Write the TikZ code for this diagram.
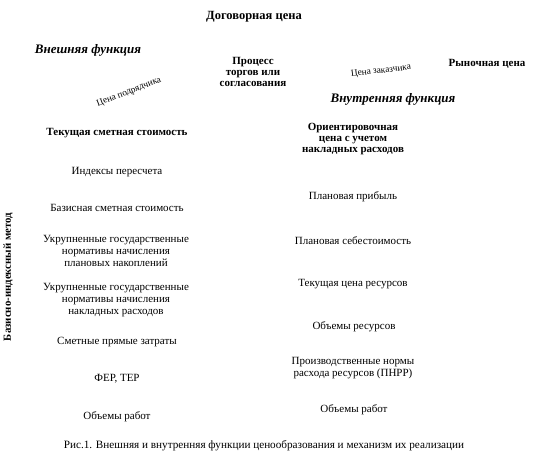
\documentclass[tikz,border=0pt]{standalone}
\usepackage{fontspec}
\setmainfont{Liberation Serif}
\begin{document}
\begin{tikzpicture}[x=1pt,y=-1pt,
  every node/.style={inner sep=0pt, align=center},
  plain/.style={font=\fontsize{11}{11.8}\selectfont},
  boldtxt/.style={font=\fontsize{11}{11}\selectfont\bfseries},
  toptxt/.style={font=\fontsize{12.5}{13}\selectfont\bfseries},
  headtxt/.style={font=\fontsize{13}{14}\selectfont\bfseries\itshape},
  smalltxt/.style={font=\fontsize{9.3}{10}\selectfont},
  sidetxt/.style={font=\fontsize{10.8}{11}\selectfont\bfseries},
  captxt/.style={font=\fontsize{11.2}{12}\selectfont}]
\useasboundingbox (0,0) rectangle (556,457);
% top
\node[toptxt] (dog) at (254,17) {Договорная цена};
\node[headtxt] (ext) at (88,50) {Внешняя функция};
\node[boldtxt] (proc) at (253,72) {Процесс\\торгов или\\согласования};
\node[boldtxt] (market) at (487,64) {Рыночная цена};
\node[smalltxt, rotate=21] (podr) at (129,92) {Цена подрядчика};
\node[smalltxt, rotate=7] (zak) at (381,71) {Цена заказчика};
\node[headtxt] (int) at (393,99) {Внутренняя функция};
% left column
\node[boldtxt] (tek) at (117,133) {Текущая сметная стоимость};
\node[plain] (ind) at (117,172) {Индексы пересчета};
\node[plain] (baz) at (117,208) {Базисная сметная стоимость};
\node[plain] (ukr1) at (116,251) {Укрупненные государственные\\нормативы начисления\\плановых накоплений};
\node[plain] (ukr2) at (116,300) {Укрупненные государственные\\нормативы начисления\\накладных расходов};
\node[plain] (smet) at (117,342) {Сметные прямые затраты};
\node[plain] (fer) at (117,379) {ФЕР, ТЕР};
\node[plain] (obl) at (117,417) {Объемы работ};
\node[sidetxt, rotate=90] (metod) at (8,277) {Базисно-индексный метод};
% right column
\node[boldtxt] (orient) at (353,139) {Ориентировочная\\цена с учетом\\накладных расходов};
\node[plain] (prib) at (353,197) {Плановая прибыль};
\node[plain] (seb) at (353,241) {Плановая себестоимость};
\node[plain] (cena) at (353,284) {Текущая цена ресурсов};
\node[plain] (obres) at (354,327) {Объемы ресурсов};
\node[plain] (pnrr) at (353,368) {Производственные нормы\\расхода ресурсов (ПНРР)};
\node[plain] (obr) at (354,410) {Объемы работ};
% caption
\node[captxt] (cap) at (264,446) {Рис.1. Внешняя и внутренняя функции ценообразования и механизм их реализации};
\end{tikzpicture}
\end{document}
